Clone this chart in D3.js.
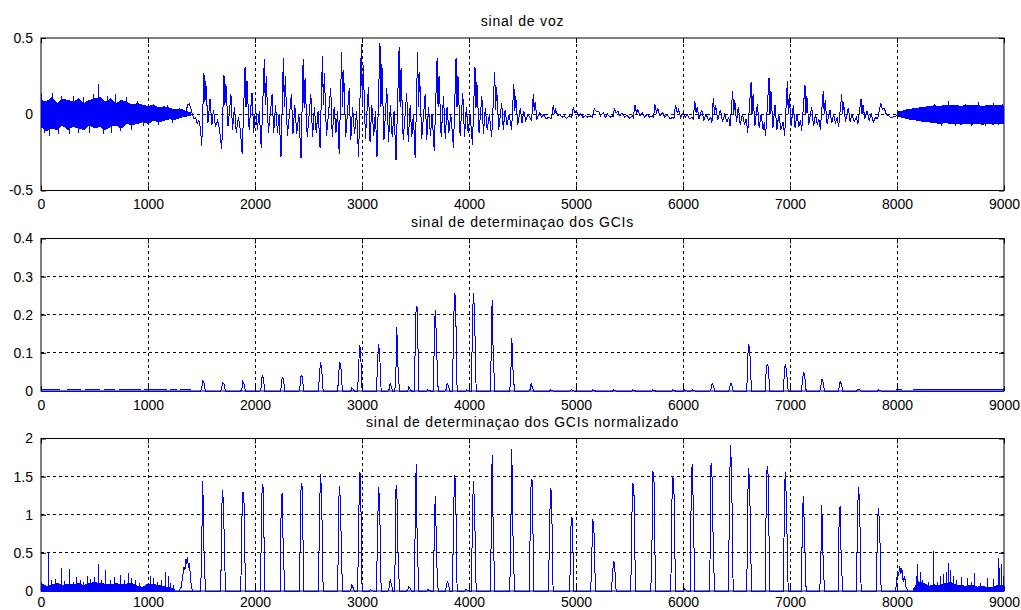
<!DOCTYPE html>
<html>
<head>
<meta charset="utf-8">
<script src="https://cdn.jsdelivr.net/npm/d3@7"></script>
<style>
  body { margin: 0; background: #fff; }
  svg text { font-family: Arial, "Liberation Sans", sans-serif; fill: #000; }
  .sig { shape-rendering: crispEdges; }
</style>
</head>
<body>
<div id="chart"></div>
<script>
// ---- data ----
var xTicks = [0, 1000, 2000, 3000, 4000, 5000, 6000, 7000, 8000, 9000];
var voiceTicks = [-0.5, 0, 0.5];
var gciTicks = [0, 0.1, 0.2, 0.3, 0.4];
var normTicks = [0, 0.5, 1, 1.5, 2];
var titles = ["sinal de voz", "sinal de determinaçao dos GCIs", "sinal de determinaçao dos GCIs normalizado"];

// noise band at the start / end of the speech signal (upper and lower envelope)
var voiceNoiseT1 = [0, 50, 100, 150, 200, 250, 300, 350, 400, 450, 500, 550, 600, 650, 700, 750, 800, 850, 900, 950, 1000, 1050, 1100, 1150, 1200, 1250, 1300, 1350, 1400];
var voiceNoiseHi1 = [0.09, 0.08, 0.11, 0.07, 0.10, 0.09, 0.08, 0.10, 0.07, 0.09, 0.10, 0.11, 0.08, 0.10, 0.07, 0.09, 0.08, 0.06, 0.07, 0.06, 0.05, 0.06, 0.04, 0.05, 0.04, 0.03, 0.035, 0.02, 0.01];
var voiceNoiseLo1 = [-0.08, -0.11, -0.09, -0.10, -0.07, -0.10, -0.08, -0.09, -0.10, -0.07, -0.09, -0.08, -0.10, -0.08, -0.07, -0.09, -0.06, -0.07, -0.06, -0.05, -0.06, -0.04, -0.05, -0.04, -0.03, -0.035, -0.02, -0.015, -0.005];
var voiceNoiseT2 = [8000, 8050, 8100, 8150, 8200, 8250, 8300, 8350, 8400, 8450, 8500, 8550, 8600, 8650, 8700, 8750, 8800, 8850, 8900, 8950, 9000];
var voiceNoiseHi2 = [0.015, 0.02, 0.03, 0.035, 0.04, 0.045, 0.05, 0.055, 0.05, 0.06, 0.055, 0.06, 0.05, 0.06, 0.055, 0.06, 0.05, 0.06, 0.055, 0.06, 0.05];
var voiceNoiseLo2 = [-0.01, -0.02, -0.03, -0.035, -0.04, -0.05, -0.05, -0.055, -0.06, -0.055, -0.06, -0.06, -0.065, -0.06, -0.065, -0.06, -0.065, -0.06, -0.065, -0.06, -0.06];
var voiceSpikes = [[5, 0.14], [30, -0.12], [75, -0.145], [110, 0.14], [160, -0.13], [190, 0.12], [270, -0.13], [300, 0.12], [350, -0.12], [400, 0.11], [450, -0.12], [490, 0.13], [536, 0.20], [580, -0.13], [620, 0.12], [660, -0.12], [700, 0.13], [745, -0.11], [800, 0.11], [850, -0.10], [900, 0.09], [960, -0.08], [1050, 0.07], [1100, -0.07], [1180, 0.06], [1230, -0.06],
  [8350, 0.07], [8420, -0.08], [8477, 0.085], [8550, -0.08], [8640, 0.07], [8700, -0.075], [8760, 0.08], [8830, -0.08], [8900, 0.075], [8950, -0.07], [8990, 0.07]];

// voiced part of the speech signal, turning points [sample, value]
var voiceLine = [
  [1300, 0.0], [1330, 0.015], [1350, 0.0], [1370, 0.06], [1385, 0.07], [1400, 0.04], [1415, 0.0], [1430, -0.03], [1445, -0.02], [1460, -0.06], [1475, -0.04], [1490, -0.09],
  [1502, -0.21], [1523, 0.27], [1532, 0.08], [1540, 0.22], [1560, -0.06], [1580, 0.10], [1597, -0.07], [1612, 0.03], [1630, -0.08], [1650, -0.04], [1668, -0.10],
  [1689, -0.23], [1710, 0.26], [1719, 0.06], [1728, 0.20], [1748, -0.08], [1775, 0.13], [1790, -0.10], [1808, 0.05], [1825, -0.12], [1845, -0.02], [1862, -0.10],
  [1880, -0.26], [1907, 0.31], [1916, 0.05], [1925, 0.22], [1945, -0.10], [1972, 0.14], [1988, -0.12], [2005, 0.05], [2022, -0.10], [2040, 0.02],
  [2058, -0.22], [2087, 0.36], [2096, 0.06], [2105, 0.25], [2125, -0.12], [2160, 0.13], [2175, -0.12], [2192, 0.06], [2210, -0.12], [2225, 0.0],
  [2243, -0.28], [2265, 0.37], [2274, 0.05], [2283, 0.25], [2303, -0.14], [2340, 0.13], [2355, -0.13], [2372, 0.06], [2390, -0.13], [2410, 0.0],
  [2430, -0.29], [2450, 0.36], [2459, 0.04], [2468, 0.24], [2488, -0.15], [2522, 0.13], [2538, -0.15], [2555, 0.05], [2572, -0.12], [2590, 0.02],
  [2608, -0.22], [2630, 0.38], [2639, 0.06], [2648, 0.27], [2668, -0.14], [2708, 0.17], [2722, -0.15], [2740, 0.05], [2757, -0.12], [2772, 0.02],
  [2787, -0.26], [2810, 0.41], [2819, 0.05], [2828, 0.29], [2848, -0.15], [2880, 0.17], [2895, -0.17], [2912, 0.05], [2930, -0.13], [2950, 0.02],
  [2968, -0.28], [2994, 0.46], [3003, 0.06], [3012, 0.32], [3032, -0.16], [3060, 0.18], [3075, -0.18], [3092, 0.06], [3110, -0.14], [3125, 0.02],
  [3140, -0.28], [3168, 0.47], [3177, 0.05], [3186, 0.33], [3205, -0.17], [3232, 0.17], [3248, -0.18], [3265, 0.06], [3282, -0.15], [3300, 0.02],
  [3318, -0.30], [3347, 0.44], [3356, 0.05], [3365, 0.30], [3385, -0.17], [3418, 0.14], [3432, -0.18], [3450, 0.06], [3465, -0.15], [3480, 0.0],
  [3497, -0.29], [3520, 0.41], [3529, 0.05], [3538, 0.28], [3558, -0.16], [3590, 0.13], [3605, -0.17], [3622, 0.05], [3640, -0.14], [3655, 0.0],
  [3675, -0.24], [3702, 0.37], [3711, 0.05], [3720, 0.25], [3740, -0.15], [3762, 0.12], [3778, -0.16], [3795, 0.05], [3812, -0.12], [3830, 0.0],
  [3855, -0.22], [3879, 0.37], [3888, 0.05], [3897, 0.25], [3917, -0.14], [3942, 0.14], [3958, -0.15], [3975, 0.05], [3992, -0.12], [4010, 0.0],
  [4032, -0.20], [4056, 0.31], [4065, 0.04], [4074, 0.21], [4094, -0.12], [4120, 0.12], [4135, -0.13], [4152, 0.04], [4170, -0.10], [4190, 0.0],
  [4212, -0.15], [4240, 0.28], [4249, 0.03], [4258, 0.18], [4278, -0.10], [4306, 0.075], [4320, -0.10], [4338, 0.03], [4355, -0.07], [4375, 0.0],
  [4398, -0.10], [4419, 0.20], [4428, 0.02], [4437, 0.12], [4455, -0.07], [4480, 0.04], [4495, -0.06], [4512, 0.02], [4530, -0.04], [4550, 0.0],
  [4585, -0.04], [4601, 0.13], [4610, 0.02], [4618, 0.08], [4635, -0.03], [4660, 0.01], [4680, -0.02], [4700, 0.0], [4720, -0.03], [4745, -0.02],
  [4770, -0.03], [4788, 0.06], [4800, 0.0], [4810, 0.03], [4830, -0.01], [4850, 0.0], [4870, -0.02], [4890, -0.01], [4910, -0.03], [4940, -0.01],
  [4960, -0.02], [4975, 0.045], [4990, 0.01], [5005, 0.02], [5025, -0.01], [5045, 0.005], [5065, -0.02], [5090, -0.01], [5110, -0.02], [5135, -0.01],
  [5150, -0.02], [5171, 0.035], [5190, 0.02], [5210, 0.02], [5230, -0.01], [5255, 0.01], [5275, -0.02], [5295, 0.0], [5320, -0.02], [5340, -0.01],
  [5345, -0.02], [5358, 0.035], [5375, 0.01], [5392, 0.02], [5410, -0.01], [5430, 0.01], [5455, -0.02], [5475, -0.005], [5500, -0.025], [5525, -0.01],
  [5535, -0.02], [5551, 0.06], [5565, 0.01], [5578, 0.03], [5598, -0.01], [5620, 0.01], [5640, -0.02], [5665, 0.0], [5690, -0.02], [5715, -0.01],
  [5725, -0.02], [5738, 0.065], [5752, 0.01], [5765, 0.035], [5785, -0.01], [5810, 0.01], [5830, -0.02], [5855, -0.005], [5880, -0.03], [5905, -0.02],
  [5915, -0.03], [5930, 0.06], [5945, 0.01], [5958, 0.03], [5978, -0.02], [6000, 0.01], [6020, -0.02], [6040, 0.0], [6060, -0.03], [6085, -0.02],
  [6095, -0.03], [6110, 0.085], [6122, 0.01], [6133, 0.05], [6150, -0.03], [6175, 0.03], [6195, -0.04], [6215, 0.0], [6240, -0.04], [6260, -0.02],
  [6270, -0.06], [6283, 0.105], [6295, 0.0], [6305, 0.06], [6325, -0.04], [6350, 0.03], [6370, -0.05], [6390, 0.0], [6410, -0.05], [6428, -0.02],
  [6440, -0.08], [6464, 0.15], [6474, 0.0], [6484, 0.09], [6500, -0.05], [6517, 0.05], [6535, -0.07], [6555, 0.0], [6575, -0.07], [6590, -0.03],
  [6605, -0.12], [6636, 0.21], [6645, 0.0], [6655, 0.13], [6672, -0.08], [6695, 0.07], [6712, -0.09], [6730, 0.0], [6748, -0.10], [6760, -0.05],
  [6772, -0.145], [6804, 0.24], [6813, 0.0], [6822, 0.15], [6840, -0.09], [6860, 0.06], [6878, -0.10], [6895, 0.0], [6915, -0.10], [6935, -0.05],
  [6950, -0.14], [6975, 0.215], [6984, 0.0], [6993, 0.13], [7010, -0.08], [7031, 0.06], [7048, -0.09], [7065, 0.0], [7082, -0.08], [7098, -0.04],
  [7109, -0.11], [7140, 0.19], [7149, 0.0], [7158, 0.12], [7175, -0.07], [7203, 0.05], [7220, -0.08], [7238, 0.0], [7255, -0.07], [7270, -0.03],
  [7283, -0.10], [7311, 0.155], [7320, 0.0], [7329, 0.09], [7346, -0.06], [7374, 0.03], [7390, -0.06], [7408, 0.0], [7425, -0.06], [7440, -0.02],
  [7455, -0.08], [7483, 0.13], [7492, 0.0], [7501, 0.08], [7518, -0.05], [7545, 0.04], [7562, -0.05], [7580, 0.0], [7600, -0.05], [7620, -0.02],
  [7635, -0.06], [7664, 0.10], [7673, 0.0], [7682, 0.06], [7700, -0.03], [7720, 0.02], [7740, -0.04], [7760, 0.0], [7779, -0.05], [7800, -0.02],
  [7820, -0.03], [7848, 0.073], [7865, 0.03], [7880, 0.04], [7900, 0.0], [7920, -0.01], [7945, -0.025], [7970, -0.015], [8000, -0.01], [8040, 0.015]
];

// GCI detection pulses: [sample, left shoulder, peak, right shoulder]
var gciPulses = [
  [1517, 0.01, 0.026, 0.022], [1704, 0.01, 0.022, 0.02], [1891, 0.005, 0.025, 0.02], [2072, 0.01, 0.04, 0.035], [2259, 0.01, 0.037, 0.034],
  [2436, 0.015, 0.042, 0.037], [2617, 0.045, 0.075, 0.063], [2797, 0.05, 0.075, 0.065], [2910, 0.0, 0.008, 0.005], [2981, 0.04, 0.12, 0.11],
  [3159, 0.07, 0.123, 0.105], [3268, 0.005, 0.02, 0.012], [3330, 0.035, 0.168, 0.07], [3442, 0.0, 0.01, 0.006], [3511, 0.11, 0.222, 0.22],
  [3620, 0.0, 0.003, 0.002], [3692, 0.18, 0.213, 0.11], [3801, 0.005, 0.02, 0.015], [3869, 0.15, 0.258, 0.245], [3984, 0.0, 0.003, 0.002],
  [4047, 0.197, 0.258, 0.2], [4221, 0.09, 0.238, 0.1], [4405, 0.045, 0.14, 0.06], [4586, 0.005, 0.02, 0.01], [4766, 0.0, 0.003, 0.002],
  [4960, 0.0, 0.003, 0.002], [5162, 0.0, 0.003, 0.002], [5355, 0.0, 0.003, 0.002], [5536, 0.0, 0.003, 0.002], [5723, 0.0, 0.003, 0.002],
  [5910, 0.0, 0.003, 0.002], [6020, 0.0, 0.003, 0.002], [6090, 0.0, 0.003, 0.002], [6277, 0.005, 0.02, 0.015], [6449, 0.005, 0.02, 0.018],
  [6620, 0.095, 0.122, 0.1], [6791, 0.05, 0.07, 0.065], [6963, 0.06, 0.07, 0.05], [7131, 0.03, 0.048, 0.045], [7302, 0.01, 0.032, 0.025],
  [7474, 0.01, 0.025, 0.018], [7645, 0.003, 0.005, 0.004], [7832, 0.0, 0.003, 0.002]
];
// stretches where the GCI signal sits just above zero: [from, to]
var gciBaseSegs = [[0, 180], [240, 370], [415, 550], [585, 690], [725, 930], [960, 1180], [1210, 1270], [1300, 1400], [7990, 8050], [8150, 9000]];
var gciBaseLevel = 0.003;

// normalised GCI pulses: [sample, left shoulder, peak, right shoulder]
var normPulses = [
  [1517, 0.70, 1.44, 0.58], [1704, 1.12, 1.33, 0.90], [1891, 0.91, 1.30, 1.27], [2072, 0.60, 1.40, 1.35], [2259, 1.17, 1.29, 0.53],
  [2436, 0.58, 1.41, 1.37], [2617, 1.00, 1.54, 1.30], [2797, 1.20, 1.38, 0.90], [2910, 0.02, 0.08, 0.05], [2981, 0.55, 1.56, 1.53],
  [3082, 0.0, 0.02, 0.01], [3159, 0.73, 1.36, 1.22], [3268, 0.05, 0.15, 0.10], [3330, 1.33, 1.39, 0.57], [3442, 0.02, 0.06, 0.04],
  [3511, 0.80, 1.66, 0.64], [3620, 0.0, 0.02, 0.01], [3692, 1.05, 1.24, 0.42], [3801, 0.05, 0.12, 0.10], [3869, 0.87, 1.52, 1.45],
  [3978, 0.0, 0.02, 0.01], [4047, 1.10, 1.44, 1.10], [4221, 0.63, 1.78, 0.82], [4405, 0.80, 1.86, 0.80], [4586, 0.80, 1.47, 1.45],
  [4766, 0.70, 1.35, 1.30], [4960, 0.26, 0.97, 0.95], [5162, 0.50, 0.94, 0.83], [5355, 0.20, 0.39, 0.36], [5536, 0.97, 1.41, 1.37],
  [5723, 0.50, 1.56, 1.55], [5910, 1.15, 1.51, 1.36], [6019, 0.0, 0.03, 0.02], [6090, 1.17, 1.67, 1.20], [6274, 1.65, 1.67, 0.86],
  [6449, 1.33, 1.92, 1.57], [6620, 1.28, 1.61, 1.22], [6791, 1.07, 1.64, 1.52], [6963, 1.38, 1.56, 1.03], [7131, 1.07, 1.24, 0.70],
  [7302, 0.37, 1.13, 0.53], [7474, 1.05, 1.11, 0.37], [7645, 0.99, 1.37, 1.18], [7832, 0.94, 1.09, 0.88]
];
// normalised noise at start / end (upper envelope) and isolated spikes
var normNoiseT1 = [0, 50, 100, 150, 200, 250, 300, 350, 400, 450, 500, 550, 600, 650, 700, 750, 800, 850, 900, 950, 1000, 1050, 1100, 1150, 1200, 1250];
var normNoiseHi1 = [0.10, 0.06, 0.08, 0.10, 0.07, 0.09, 0.08, 0.10, 0.07, 0.10, 0.11, 0.10, 0.09, 0.08, 0.10, 0.08, 0.09, 0.10, 0.06, 0.05, 0.09, 0.09, 0.07, 0.06, 0.04, 0.02];
var normNoiseT2 = [8150, 8200, 8250, 8300, 8350, 8400, 8450, 8500, 8550, 8600, 8650, 8700, 8750, 8800, 8850, 8900, 8950, 9000];
var normNoiseHi2 = [0.02, 0.12, 0.10, 0.06, 0.08, 0.07, 0.10, 0.11, 0.08, 0.07, 0.06, 0.08, 0.05, 0.06, 0.04, 0.05, 0.08, 0.06];
var normSpikes = [[5, 0.12], [72, 0.50], [100, 0.14], [140, 0.16], [193, 0.30], [220, 0.13], [271, 0.29], [300, 0.12], [334, 0.18], [370, 0.15],
  [400, 0.12], [433, 0.20], [460, 0.16], [500, 0.18], [536, 0.36], [570, 0.14], [607, 0.28], [650, 0.15], [690, 0.18], [745, 0.21],
  [780, 0.15], [816, 0.23], [850, 0.17], [880, 0.14], [920, 0.10], [988, 0.07], [1019, 0.20], [1050, 0.17], [1090, 0.12], [1130, 0.14],
  [1165, 0.25], [1190, 0.20], [1212, 0.10], [1240, 0.08],
  [8180, 0.20], [8190, 0.36], [8215, 0.25], [8240, 0.15], [8290, 0.12], [8340, 0.52], [8380, 0.12], [8410, 0.20], [8433, 0.22], [8460, 0.25],
  [8480, 0.37], [8500, 0.28], [8530, 0.20], [8560, 0.15], [8605, 0.18], [8661, 0.17], [8700, 0.12], [8723, 0.24], [8780, 0.10], [8845, 0.17],
  [8900, 0.16], [8947, 0.43], [8960, 0.30], [8978, 0.35], [8995, 0.20]];
var normHump1 = [[1290, 0], [1310, 0.05], [1325, 0.20], [1335, 0.32], [1345, 0.28], [1355, 0.42], [1362, 0.35], [1370, 0.44], [1378, 0.30], [1388, 0.36], [1398, 0.15], [1410, 0.03], [1420, 0]];
var normHump2 = [[7985, 0], [7995, 0.10], [8005, 0.25], [8015, 0.20], [8025, 0.33], [8035, 0.22], [8045, 0.30], [8058, 0.12], [8070, 0.20], [8085, 0.05], [8100, 0]];

// ---- drawing ----
var WIDTH = 1021, HEIGHT = 610,
    LEFT = 41, RIGHT = 1004, PANEL_H = 152.5,
    TOPS = [38, 238.5, 438.5],
    LABEL_PAD = [9, 9, 6],
    BLUE = "#0000ff";

var svg = d3.select("#chart").append("svg")
    .attr("width", WIDTH)
    .attr("height", HEIGHT);

var x = d3.scaleLinear().domain([0, 9000]).range([LEFT, RIGHT]);

function zip(t, v) {
    return t.map(function (d, i) { return [d, v[i]]; });
}

function pulsePoints(pulses) {
    var pts = [[0, 0]];
    pulses.forEach(function (p) {
        pts.push([p[0] - 24, 0], [p[0] - 14, p[1]], [p[0] - 5, p[2]], [p[0] + 5, p[3]], [p[0] + 20, 0]);
    });
    pts.push([9000, 0]);
    return pts;
}

function panel(i, yDomain, yTicks) {
    var top = TOPS[i], bottom = top + PANEL_H;
    var y = d3.scaleLinear().domain(yDomain).range([bottom, top]);
    var g = svg.append("g").attr("id", "panel" + i);

    // box
    g.append("rect")
        .attr("x", LEFT).attr("y", top)
        .attr("width", RIGHT - LEFT).attr("height", PANEL_H)
        .attr("fill", "#fff").attr("stroke", "#000").attr("stroke-width", 1);

    // dashed grid
    var grid = g.append("g").attr("class", "grid");
    grid.selectAll("line.gx")
        .data(xTicks.slice(1, -1)).enter().append("line")
        .attr("x1", function (d) { return x(d); }).attr("x2", function (d) { return x(d); })
        .attr("y1", top).attr("y2", bottom);
    grid.selectAll("line.gy")
        .data(yTicks.slice(1, -1)).enter().append("line")
        .attr("x1", LEFT).attr("x2", RIGHT)
        .attr("y1", function (d) { return y(d); }).attr("y2", function (d) { return y(d); });
    grid.selectAll("line")
        .attr("stroke", "#000").attr("stroke-width", 1)
        .attr("stroke-dasharray", "3,3")
        .attr("shape-rendering", "crispEdges");

    // axes (ticks inward, MATLAB style)
    var fmt = function (d) { return String(d); };
    var ax = [
        g.append("g").attr("transform", "translate(0," + bottom + ")")
            .call(d3.axisBottom(x).tickValues(xTicks).tickFormat(fmt).tickSizeInner(-5).tickSizeOuter(0).tickPadding(LABEL_PAD[i])),
        g.append("g").attr("transform", "translate(" + LEFT + ",0)")
            .call(d3.axisLeft(y).tickValues(yTicks).tickFormat(fmt).tickSizeInner(-5).tickSizeOuter(0).tickPadding(8)),
        g.append("g").attr("transform", "translate(0," + top + ")")
            .call(d3.axisTop(x).tickValues(xTicks).tickFormat("").tickSizeInner(-5).tickSizeOuter(0)),
        g.append("g").attr("transform", "translate(" + RIGHT + ",0)")
            .call(d3.axisRight(y).tickValues(yTicks).tickFormat("").tickSizeInner(-5).tickSizeOuter(0))
    ];
    ax.forEach(function (a) {
        a.attr("font-size", 14).attr("font-family", null);
        a.select(".domain").remove();
        a.selectAll("line").attr("stroke", "#000");
    });

    // title
    g.append("text")
        .attr("x", (LEFT + RIGHT) / 2).attr("y", top - 12)
        .attr("text-anchor", "middle")
        .attr("font-size", 14)
        .attr("letter-spacing", "0.8px")
        .text(titles[i]);

    // clipped data layer
    svg.append("clipPath").attr("id", "clip" + i)
        .append("rect").attr("x", LEFT).attr("y", top - 1)
        .attr("width", RIGHT - LEFT).attr("height", PANEL_H + 2);
    var data = g.append("g").attr("class", "sig").attr("clip-path", "url(#clip" + i + ")");

    return { y: y, data: data };
}

var line = function (y) {
    return d3.line().x(function (d) { return x(d[0]); }).y(function (d) { return y(d[1]); });
};

function drawSpikes(p, spikes) {
    p.data.append("g").selectAll("line")
        .data(spikes).enter().append("line")
        .attr("x1", function (d) { return x(d[0]); }).attr("x2", function (d) { return x(d[0]); })
        .attr("y1", p.y(0)).attr("y2", function (d) { return p.y(d[1]); })
        .attr("stroke", BLUE).attr("stroke-width", 1);
}

// panel 1: speech signal
var p1 = panel(0, [-0.5, 0.5], voiceTicks);
var band = d3.area()
    .x(function (d) { return x(d[0]); })
    .y0(function (d) { return p1.y(d[2]); })
    .y1(function (d) { return p1.y(d[1]); });
[[voiceNoiseT1, voiceNoiseHi1, voiceNoiseLo1], [voiceNoiseT2, voiceNoiseHi2, voiceNoiseLo2]].forEach(function (n) {
    p1.data.append("path")
        .datum(n[0].map(function (t, i) { return [t, n[1][i], n[2][i]]; }))
        .attr("d", band)
        .attr("fill", BLUE).attr("stroke", BLUE).attr("stroke-width", 1);
});
drawSpikes(p1, voiceSpikes);
p1.data.append("path")
    .datum(voiceLine)
    .attr("d", line(p1.y))
    .attr("fill", "none").attr("stroke", BLUE).attr("stroke-width", 1);

// panel 2: GCI detection signal
var p2 = panel(1, [0, 0.4], gciTicks);
p2.data.selectAll("line.base")
    .data(gciBaseSegs).enter().append("line")
    .attr("x1", function (d) { return x(d[0]); }).attr("x2", function (d) { return x(d[1]); })
    .attr("y1", p2.y(gciBaseLevel)).attr("y2", p2.y(gciBaseLevel))
    .attr("stroke", BLUE).attr("stroke-width", 1);
p2.data.append("path")
    .datum(pulsePoints(gciPulses))
    .attr("d", line(p2.y))
    .attr("fill", "none").attr("stroke", BLUE).attr("stroke-width", 1);

// panel 3: normalised GCI signal
var p3 = panel(2, [0, 2], normTicks);
var fill = d3.area()
    .x(function (d) { return x(d[0]); })
    .y0(p3.y(0))
    .y1(function (d) { return p3.y(d[1]); });
[zip(normNoiseT1, normNoiseHi1), zip(normNoiseT2, normNoiseHi2)].forEach(function (n) {
    p3.data.append("path").datum(n).attr("d", fill)
        .attr("fill", BLUE).attr("stroke", BLUE).attr("stroke-width", 1);
});
drawSpikes(p3, normSpikes);
[normHump1, normHump2].forEach(function (h) {
    p3.data.append("path").datum(h).attr("d", line(p3.y))
        .attr("fill", "none").attr("stroke", BLUE).attr("stroke-width", 1);
});
p3.data.append("path")
    .datum(pulsePoints(normPulses))
    .attr("d", line(p3.y))
    .attr("fill", "none").attr("stroke", BLUE).attr("stroke-width", 1);
</script>
</body>
</html>
